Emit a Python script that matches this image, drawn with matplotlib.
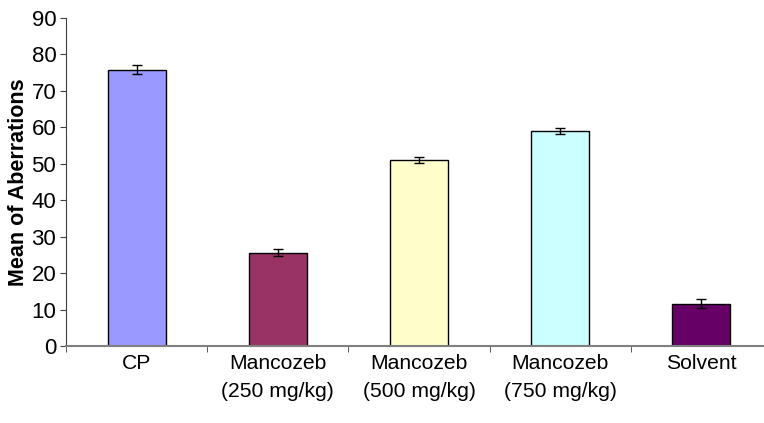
import matplotlib
matplotlib.use("Agg")
import matplotlib.pyplot as plt
import numpy as np

categories = ["CP", "Mancozeb\n(250 mg/kg)", "Mancozeb\n(500 mg/kg)", "Mancozeb\n(750 mg/kg)", "Solvent"]
means = [75.8, 25.6, 51.0, 59.0, 11.6]
errors = [1.2, 1.0, 0.8, 0.8, 1.2]
colors = ["#9999FF", "#993366", "#FFFFCC", "#CCFFFF", "#660066"]
yticks = [0, 10, 20, 30, 40, 50, 60, 70, 80, 90]

plt.rcParams['font.family'] = ['Liberation Sans', 'DejaVu Sans']

W, H = 764, 423
fig = plt.figure(figsize=(W / 100, H / 100), dpi=100)
left, right, top, bottom = 66, 772, 18, 346
ax = fig.add_axes([left / W, 1 - bottom / H, (right - left) / W, (bottom - top) / H])

x = np.arange(len(categories))
ax.bar(x, means, width=0.41, color=colors, edgecolor="black", linewidth=1.0, zorder=2)
ax.errorbar(x, means, yerr=errors, fmt="none", ecolor="black", elinewidth=1.0,
            capsize=3.6, capthick=1.0, zorder=3)

ax.set_xlim(-0.5, len(categories) - 0.5)
ax.set_ylim(0, 90)
ax.set_yticks(yticks)
ax.set_yticklabels([str(v) for v in yticks], fontsize=16)
ax.set_xticks(x)
ax.set_xticklabels(categories, fontsize=15.2, linespacing=1.6)
ax.set_xticks(np.arange(len(categories) + 1) - 0.5, minor=True)
ax.tick_params(axis="x", which="major", length=0, pad=6)
ax.tick_params(axis="x", which="minor", length=4, color="#404040", direction="out")
ax.tick_params(axis="y", length=4, color="#404040", pad=3, direction="out")

for s in ["top", "right"]:
    ax.spines[s].set_visible(False)
ax.spines["left"].set_color("#404040")
ax.spines["bottom"].set_color("#808080")
ax.spines["bottom"].set_linewidth(1.5)

ax.set_ylabel("Mean of Aberrations", fontsize=15.5, fontweight="bold")
ax.yaxis.set_label_coords((29 - left) / (right - left), 0.5)

fig.savefig("out.png", dpi=100)
